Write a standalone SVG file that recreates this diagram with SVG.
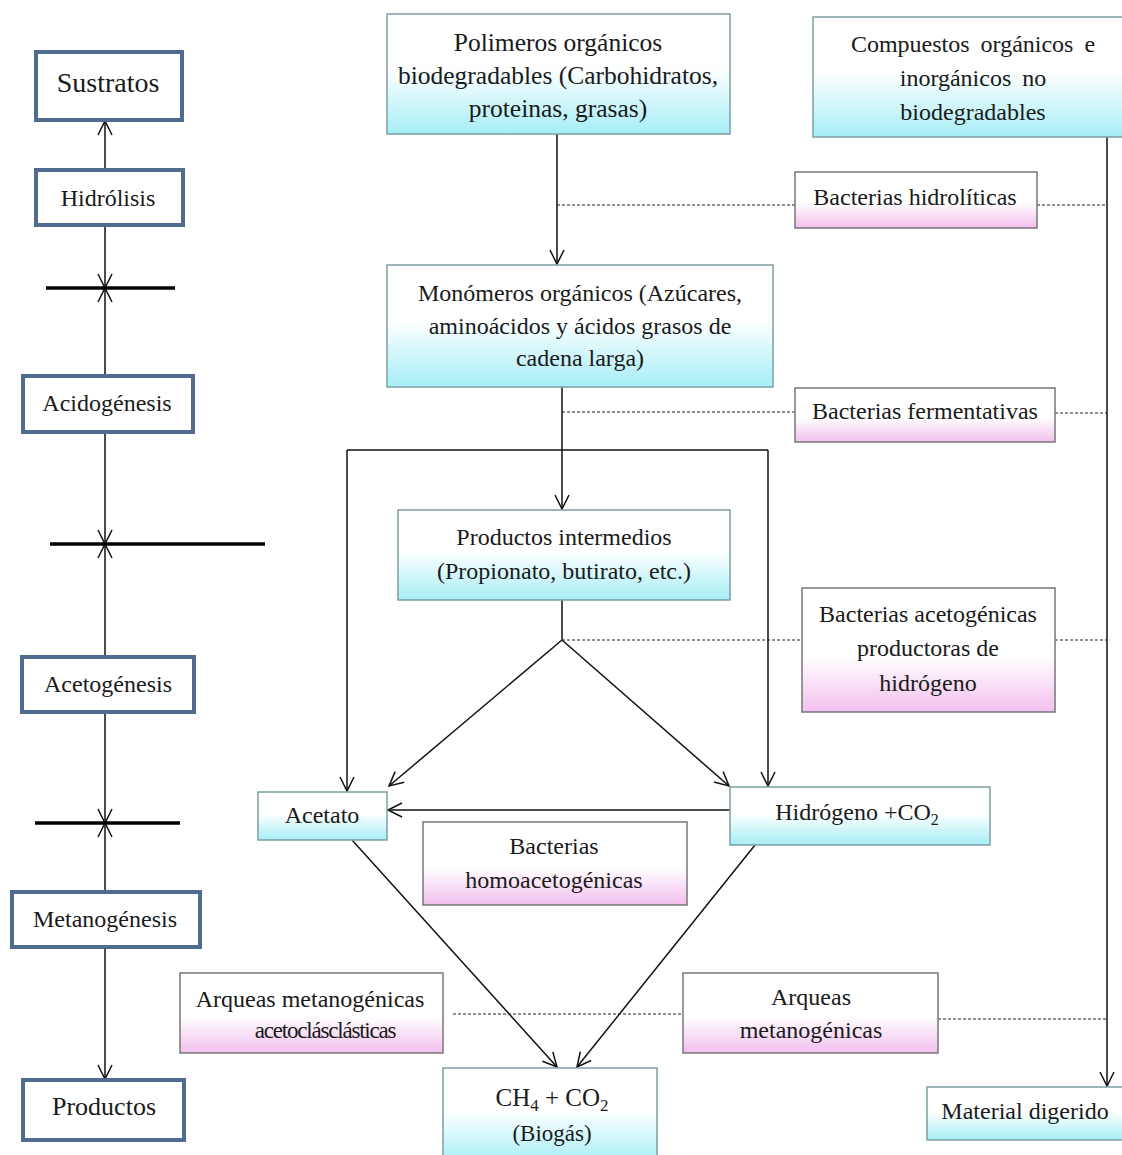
<svg xmlns="http://www.w3.org/2000/svg" width="1122" height="1155" viewBox="0 0 1122 1155">
<style>
text{font-family:"Liberation Serif","Times New Roman",serif;font-size:24px;fill:#1a1a1a;text-anchor:middle}
.stage{fill:#fff;stroke:#4f6b90;stroke-width:4}
.cyan{fill:url(#gc);stroke:#7d9ea3;stroke-width:1.5}
.pink{fill:url(#gp);stroke:#777;stroke-width:1.5}
.ln{stroke:#111;stroke-width:1.5;fill:none}
.ar{stroke:#111;stroke-width:1.5;fill:none;marker-end:url(#ah)}
.dash{stroke:#222;stroke-width:1.2;stroke-dasharray:3,2;fill:none}
.bar{stroke:#000;stroke-width:3.5}
</style>
<defs>
<linearGradient id="gc" x1="0" y1="0" x2="0" y2="1">
<stop offset="0" stop-color="#ffffff"/><stop offset="0.45" stop-color="#ffffff"/><stop offset="1" stop-color="#a6eef6"/>
</linearGradient>
<linearGradient id="gp" x1="0" y1="0" x2="0" y2="1">
<stop offset="0" stop-color="#ffffff"/><stop offset="0.55" stop-color="#ffffff"/><stop offset="1" stop-color="#f2bfee"/>
</linearGradient>
<marker id="ah" markerUnits="userSpaceOnUse" markerWidth="18" markerHeight="18" refX="15" refY="8" orient="auto">
<path d="M1,1 L15,8 L1,15" fill="none" stroke="#111" stroke-width="1.5"/>
</marker>
</defs>
<rect width="1122" height="1155" fill="#fff"/>

<g id="connectors">
<line class="ar" x1="105" y1="170" x2="105" y2="121"/>
<line class="ar" x1="105" y1="225" x2="105" y2="288"/>
<line class="ar" x1="105" y1="376" x2="105" y2="288"/>
<line class="ar" x1="105" y1="432" x2="105" y2="544"/>
<line class="ar" x1="105" y1="657" x2="105" y2="544"/>
<line class="ar" x1="105" y1="712" x2="105" y2="823"/>
<line class="ar" x1="105" y1="892" x2="105" y2="823"/>
<line class="ar" x1="105" y1="947" x2="105" y2="1079"/>
<line class="bar" x1="46" y1="288" x2="175" y2="288"/>
<line class="bar" x1="50" y1="544" x2="265" y2="544"/>
<line class="bar" x1="35" y1="823" x2="180" y2="823"/>
<line class="ar" x1="557" y1="134" x2="557" y2="264"/>
<line class="ar" x1="562" y1="387" x2="562" y2="509"/>
<polyline class="ln" points="347,450 768,450"/>
<line class="ar" x1="347" y1="450" x2="347" y2="791"/>
<line class="ar" x1="768" y1="450" x2="768" y2="786"/>
<line class="ln" x1="562" y1="600" x2="562" y2="640"/>
<line class="ar" x1="562" y1="640" x2="389" y2="786"/>
<line class="ar" x1="562" y1="640" x2="729" y2="786"/>
<line class="ar" x1="730" y1="810" x2="388" y2="810"/>
<line class="ar" x1="352" y1="840" x2="557" y2="1067"/>
<line class="ar" x1="755" y1="845" x2="577" y2="1067"/>
<line class="ar" x1="1107" y1="137" x2="1107" y2="1086"/>
<line class="dash" x1="557" y1="205" x2="795" y2="205"/>
<line class="dash" x1="1037" y1="205" x2="1107" y2="205"/>
<line class="dash" x1="562" y1="412" x2="795" y2="412"/>
<line class="dash" x1="1055" y1="413" x2="1107" y2="413"/>
<line class="dash" x1="562" y1="640" x2="802" y2="640"/>
<line class="dash" x1="1055" y1="640" x2="1107" y2="640"/>
<line class="dash" x1="453" y1="1014" x2="683" y2="1014"/>
<line class="dash" x1="938" y1="1019" x2="1107" y2="1019"/>
</g>

<g id="n-sustratos"><rect class="stage" x="36" y="52" width="146" height="68"/><text x="108" y="92" style="font-size:28px">Sustratos</text></g>
<g id="n-hidrolisis"><rect class="stage" x="36" y="170" width="147" height="55"/><text x="108" y="206">Hidrólisis</text></g>
<g id="n-acidogenesis"><rect class="stage" x="23" y="376" width="170" height="56"/><text x="107" y="411">Acidogénesis</text></g>
<g id="n-acetogenesis"><rect class="stage" x="22" y="657" width="172" height="55"/><text x="108" y="692">Acetogénesis</text></g>
<g id="n-metanogenesis"><rect class="stage" x="12" y="892" width="188" height="55"/><text x="105" y="927">Metanogénesis</text></g>
<g id="n-productos"><rect class="stage" x="23" y="1080" width="161" height="60"/><text x="104" y="1115" style="font-size:26px">Productos</text></g>

<g id="n-polimeros"><rect class="cyan" x="387" y="14" width="343" height="120"/>
<text x="558" y="51" style="font-size:25.5px">Polimeros orgánicos</text><text x="558" y="84" style="font-size:25.5px">biodegradables (Carbohidratos,</text><text x="558" y="117" style="font-size:25.5px">proteinas, grasas)</text></g>
<g id="n-compuestos"><rect class="cyan" x="813" y="17" width="312" height="120"/>
<text x="973" y="52" style="word-spacing:5px">Compuestos orgánicos e</text><text x="973" y="86" style="word-spacing:5px">inorgánicos no</text><text x="973" y="120">biodegradables</text></g>
<g id="n-hidroliticas"><rect class="pink" x="795" y="172" width="242" height="56"/><text x="915" y="205">Bacterias hidrolíticas</text></g>
<g id="n-monomeros"><rect class="cyan" x="387" y="265" width="386" height="122"/>
<text x="580" y="301">Monómeros orgánicos (Azúcares,</text><text x="580" y="334">aminoácidos y ácidos grasos de</text><text x="580" y="366">cadena larga)</text></g>
<g id="n-fermentativas"><rect class="pink" x="795" y="388" width="260" height="54"/><text x="925" y="419">Bacterias fermentativas</text></g>
<g id="n-intermedios"><rect class="cyan" x="398" y="510" width="332" height="90"/>
<text x="564" y="545">Productos intermedios</text><text x="564" y="579">(Propionato, butirato, etc.)</text></g>
<g id="n-acetogenicas"><rect class="pink" x="802" y="588" width="253" height="124"/>
<text x="928" y="622">Bacterias acetogénicas</text><text x="928" y="656">productoras de</text><text x="928" y="691">hidrógeno</text></g>
<g id="n-acetato"><rect class="cyan" x="258" y="792" width="129" height="48"/><text x="322" y="823">Acetato</text></g>
<g id="n-hidrogeno"><rect class="cyan" x="730" y="787" width="260" height="58"/><text x="857" y="820">Hidrógeno +CO<tspan style="font-size:16px" dy="5">2</tspan></text></g>
<g id="n-homoacetogenicas"><rect class="pink" x="423" y="822" width="264" height="83"/>
<text x="554" y="854">Bacterias</text><text x="554" y="888">homoacetogénicas</text></g>
<g id="n-acetoclasticas"><rect class="pink" x="180" y="973" width="263" height="80"/>
<text x="310" y="1007">Arqueas metanogénicas</text><text x="325" y="1038" style="font-size:23px;letter-spacing:-1.2px">acetoclásclásticas</text></g>
<g id="n-metanogenicas"><rect class="pink" x="683" y="973" width="255" height="80"/>
<text x="811" y="1005">Arqueas</text><text x="811" y="1038">metanogénicas</text></g>
<g id="n-biogas"><rect class="cyan" x="443" y="1068" width="214" height="95"/>
<text x="552" y="1106" style="font-size:25px">CH<tspan style="font-size:17px" dy="5">4</tspan><tspan dy="-5"> + CO</tspan><tspan style="font-size:17px" dy="5">2</tspan></text><text x="552" y="1141" style="font-size:23px">(Biogás)</text></g>
<g id="n-digerido"><rect class="cyan" x="927" y="1087" width="200" height="53"/><text x="1025" y="1119">Material digerido</text></g>
</svg>
